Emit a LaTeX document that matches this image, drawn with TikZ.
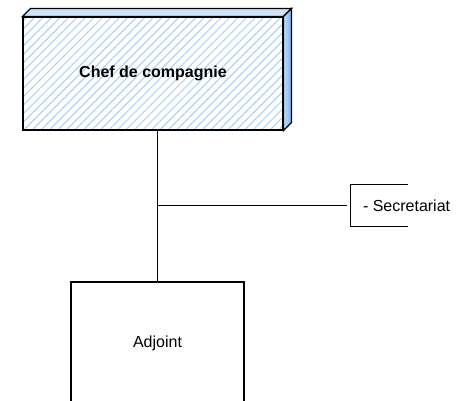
\documentclass[tikz,border=0pt]{standalone}
\usepackage{fontspec}
\setmainfont{Liberation Sans}
\usetikzlibrary{patterns.meta}
\definecolor{hatchblue}{HTML}{A9CDF7}
\definecolor{topblue}{HTML}{CFE2FA}
\definecolor{sideblue}{HTML}{78B0F0}
\tikzset{unit/.style = {draw, line width=1.2pt, inner sep=0,
                        font=\fontsize{16}{18}\selectfont}}
\tikzset{chef/.style = {unit, minimum width=260pt, minimum height=113pt,
                        font=\fontsize{16}{18}\selectfont\bfseries,
                        pattern={Lines[angle=45, distance=6pt, line width=1pt]},
                        pattern color=hatchblue}}
\tikzset{note/.style = {minimum width=57pt, minimum height=41pt, inner sep=0}}

\begin{document}
\begin{tikzpicture}[x=1pt, y=-1pt]
      \useasboundingbox (0,0) rectangle (464,400);
      \clip (0,0) rectangle (464,400);

      \node [chef] (chef) at (153,73.5) {Chef de compagnie};
      \draw [line width=1.2pt, fill=topblue] (chef.north west) -- ++(8,-8)
            -- ([shift={(8,-8)}]chef.north east) -- (chef.north east) -- cycle;
      \draw [line width=1.2pt, left color=sideblue!45, right color=sideblue]
            (chef.north east) -- ++(8,-8)
            -- ([shift={(8,-8)}]chef.south east) -- (chef.south east) -- cycle;

      \node [unit, minimum width=173pt, minimum height=122pt] (adj) at (157.5,343) {Adjoint};

      \node [note] (secbox) at (379.5,205.5) {};
      \node [anchor=west, inner sep=0, font=\fontsize{16}{18}\selectfont] (sec)
            at ([xshift=12]secbox.west) {- Secretariat};
      \draw [line width=1.2pt] (secbox.north east) -- (secbox.north west)
            -- (secbox.south west) -- (secbox.south east);

      \coordinate (j) at (adj.north |- secbox.west);
      \draw [line width=1.2pt] (adj.north) -- (adj.north |- chef.south);
      \draw [line width=1.2pt, shorten >=4pt] (j) -- (secbox.west);
    \end{tikzpicture}
\end{document}
